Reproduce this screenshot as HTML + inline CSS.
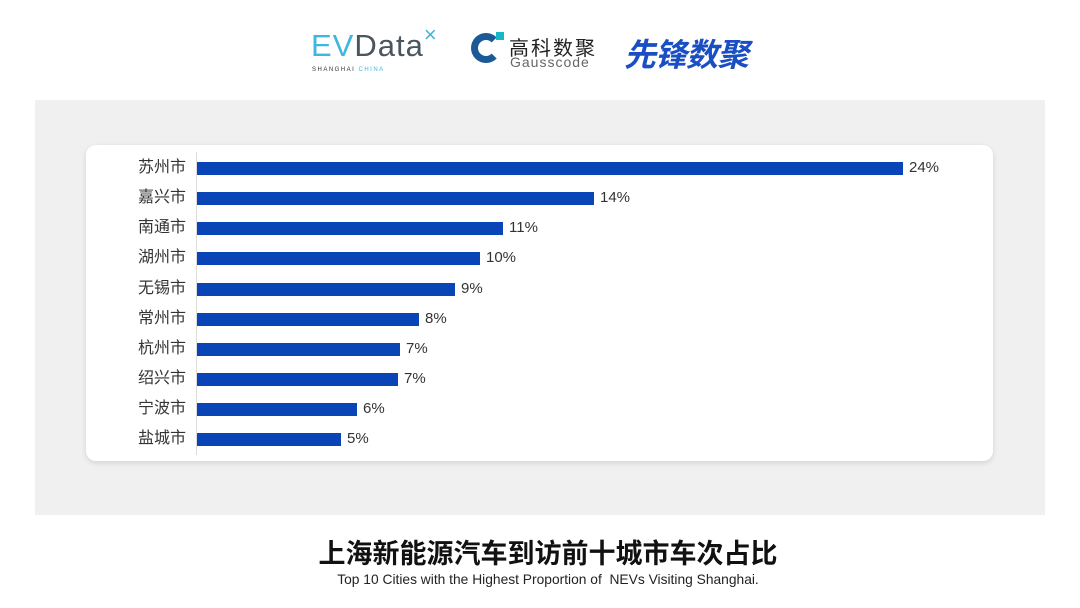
<!DOCTYPE html>
<html><head><meta charset="utf-8"><style>
body{margin:0;width:1080px;height:608px;background:#fff;position:relative;overflow:hidden;font-family:"Liberation Sans","Noto Sans CJK SC",sans-serif}
.a{position:absolute}
.bg{left:35px;top:100px;width:1010px;height:415px;background:#f0f0f0}
.card{left:86px;top:145px;width:907px;height:316px;background:#fff;border-radius:10px;box-shadow:0 2px 6px rgba(0,0,0,.12)}
.lab{left:100px;width:86px;text-align:right;font-size:16px;color:#333;line-height:20px}
.bar{left:197px;height:13px;background:#0a45b8}
.val{font-size:15px;color:#333;line-height:20px}
</style></head><body>
<div class="a" style="left:311px;top:28px;font-size:31px;color:#4a5560;letter-spacing:1px"><span style="color:#3fb6e0">EV</span>Data<span style="color:#3fb6e0;font-size:22px;position:relative;top:-14px">×</span></div>
<div class="a" style="left:312px;top:67px;font-size:6px;color:#333;letter-spacing:1.5px">SHANGHAI <span style="color:#3fb6e0">CHINA</span></div>
<div class="a" style="left:471px;top:33px;width:30px;height:30px;border-radius:50%;border:7px solid #1a5a96;box-sizing:border-box;border-right-color:transparent"></div>
<div class="a" style="left:496px;top:32px;width:8px;height:8px;background:#19b6c6"></div>
<div class="a" style="left:509px;top:32px;font-size:20px;color:#222;letter-spacing:2px">高科数聚</div>
<div class="a" style="left:510px;top:54px;font-size:14px;color:#666;letter-spacing:1px">Gausscode</div>
<div class="a" style="left:624px;top:30px;font-size:32px;color:#1a4fc4;font-style:italic;font-weight:bold;letter-spacing:-1px">先锋数聚</div>
<div class="a bg"></div>
<div class="a card"></div>
<div class="a" style="left:196px;top:152px;width:1px;height:303px;background:#ddd"></div>
<div class="a lab" style="top:158px">苏州市</div><div class="a bar" style="top:162px;width:706px"></div><div class="a val" style="left:909px;top:158px">24%</div>
<div class="a lab" style="top:188px">嘉兴市</div><div class="a bar" style="top:192px;width:397px"></div><div class="a val" style="left:600px;top:188px">14%</div>
<div class="a lab" style="top:218px">南通市</div><div class="a bar" style="top:222px;width:306px"></div><div class="a val" style="left:509px;top:218px">11%</div>
<div class="a lab" style="top:248px">湖州市</div><div class="a bar" style="top:252px;width:283px"></div><div class="a val" style="left:486px;top:248px">10%</div>
<div class="a lab" style="top:279px">无锡市</div><div class="a bar" style="top:283px;width:258px"></div><div class="a val" style="left:461px;top:279px">9%</div>
<div class="a lab" style="top:309px">常州市</div><div class="a bar" style="top:313px;width:222px"></div><div class="a val" style="left:425px;top:309px">8%</div>
<div class="a lab" style="top:339px">杭州市</div><div class="a bar" style="top:343px;width:203px"></div><div class="a val" style="left:406px;top:339px">7%</div>
<div class="a lab" style="top:369px">绍兴市</div><div class="a bar" style="top:373px;width:201px"></div><div class="a val" style="left:404px;top:369px">7%</div>
<div class="a lab" style="top:399px">宁波市</div><div class="a bar" style="top:403px;width:160px"></div><div class="a val" style="left:363px;top:399px">6%</div>
<div class="a lab" style="top:429px">盐城市</div><div class="a bar" style="top:433px;width:144px"></div><div class="a val" style="left:347px;top:429px">5%</div>
<div class="a" style="left:8px;width:1080px;top:532px;text-align:center;font-size:27px;font-weight:bold;color:#111">上海新能源汽车到访前十城市车次占比</div>
<div class="a" style="left:8px;width:1080px;top:572px;text-align:center;font-size:13.8px;color:#222">Top 10 Cities with the Highest Proportion of&nbsp; NEVs Visiting Shanghai.</div>
</body></html>
